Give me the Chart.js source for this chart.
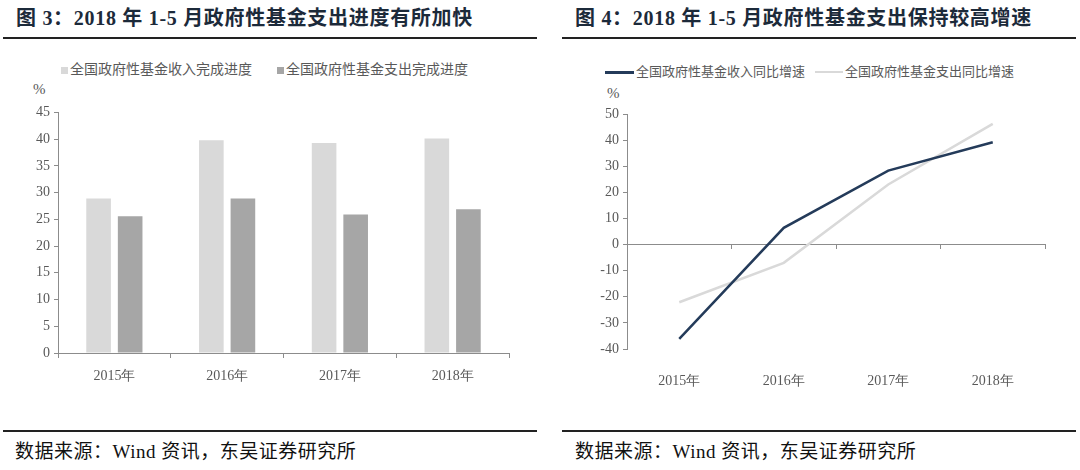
<!DOCTYPE html>
<html>
<head>
<meta charset="utf-8">
<script src="https://cdn.jsdelivr.net/npm/chart.js@4"></script>
<style>
  body { margin: 0; background: #fff; }
  #page { position: relative; width: 1080px; height: 470px; overflow: hidden; background: #fff; font-family: "Liberation Serif", "Noto Sans CJK SC", serif; }
  .title { position: absolute; top: 5px; font-size: 20px; font-weight: bold; color: #1c2a3a; white-space: nowrap; line-height: 26px; letter-spacing: 0.7px; }
  .rule { position: absolute; height: 2px; background: #222; }
  .source { position: absolute; top: 439px; font-size: 19px; color: #111; white-space: nowrap; line-height: 26px; letter-spacing: 0.5px; }
  .legend { position: absolute; font-size: 14px; color: #595959; white-space: nowrap; line-height: 18px; font-family: "Noto Sans CJK SC", sans-serif; }
  .sw { display: inline-block; vertical-align: middle; margin-right: 2px; }
  .pct { position: absolute; font-size: 15px; color: #595959; }
  .box { position: absolute; width: 540px; height: 290px; top: 100px; }
</style>
</head>
<body>
<div id="page">
  <div class="title" style="left:16px">图 3：2018 年 1-5 月政府性基金支出进度有所加快</div>
  <div class="title" style="left:575px">图 4：2018 年 1-5 月政府性基金支出保持较高增速</div>
  <div class="rule" style="left:3px;width:534px;top:37px"></div>
  <div class="rule" style="left:562px;width:514px;top:37px"></div>

  <div class="legend" style="left:61px;top:59px"><span class="sw" style="width:7px;height:7px;background:#d9d9d9"></span>全国政府性基金收入完成进度</div>
  <div class="legend" style="left:277px;top:59px"><span class="sw" style="width:7px;height:7px;background:#a6a6a6"></span>全国政府性基金支出完成进度</div>
  <div class="legend" style="left:605px;top:62px;font-size:13px"><span class="sw" style="width:29px;height:3px;background:#243b5a"></span>全国政府性基金收入同比增速</div>
  <div class="legend" style="left:815px;top:62px;font-size:13px"><span class="sw" style="width:28px;height:2px;background:#d9d9d9"></span>全国政府性基金支出同比增速</div>

  <div class="pct" style="left:33px;top:81px">%</div>
  <div class="pct" style="left:607px;top:85px">%</div>

  <div class="box" style="left:0"><canvas id="barChart"></canvas></div>
  <div class="box" style="left:540px"><canvas id="lineChart"></canvas></div>

  <div class="rule" style="left:3px;width:534px;top:430px"></div>
  <div class="rule" style="left:562px;width:514px;top:430px"></div>
  <div class="source" style="left:15px">数据来源：Wind 资讯，东吴证券研究所</div>
  <div class="source" style="left:575px">数据来源：Wind 资讯，东吴证券研究所</div>
</div>
<script>
const years = ["2015年", "2016年", "2017年", "2018年"];
const incomeProgress = [28.9, 39.8, 39.3, 40.1];
const spendProgress = [25.6, 28.9, 25.9, 26.9];
const incomeGrowth = [-36.1, 6.4, 28.3, 39.2];
const spendGrowth = [-22.1, -7.0, 23.0, 46.2];

const tickFont = { family: "Liberation Serif", size: 14 };
const tickColor = "#595959";
const axisColor = "#8c8c8c";

new Chart(document.getElementById("barChart"), {
  type: "bar",
  data: {
    labels: years,
    datasets: [{
      label: "全国政府性基金收入完成进度",
      data: incomeProgress,
      backgroundColor: "#d9d9d9",
      categoryPercentage: 0.56,
      barPercentage: 0.78
    }, {
      label: "全国政府性基金支出完成进度",
      data: spendProgress,
      backgroundColor: "#a6a6a6",
      categoryPercentage: 0.56,
      barPercentage: 0.78
    }]
  },
  options: {
    responsive: true,
    maintainAspectRatio: false,
    animation: false,
    layout: { padding: { top: 12, right: 31, left: 0, bottom: 0 } },
    plugins: { legend: { display: false }, tooltip: { enabled: false } },
    scales: {
      x: {
        grid: { offset: true, drawOnChartArea: false, tickLength: 5, color: axisColor },
        border: { color: axisColor },
        ticks: { font: tickFont, color: tickColor, padding: 10 },
        afterFit: (s) => { s.height = 37; }
      },
      y: {
        min: 0,
        max: 45,
        ticks: { stepSize: 5, font: tickFont, color: tickColor, padding: 4 },
        grid: { drawOnChartArea: false, tickLength: 4, color: axisColor },
        border: { color: axisColor },
        afterFit: (s) => { s.width = 58; }
      }
    }
  }
});

new Chart(document.getElementById("lineChart"), {
  type: "line",
  data: {
    labels: years,
    datasets: [{
      label: "全国政府性基金收入同比增速",
      data: incomeGrowth,
      borderColor: "#243b5a",
      borderWidth: 2.5,
      pointRadius: 0,
      tension: 0
    }, {
      label: "全国政府性基金支出同比增速",
      data: spendGrowth,
      borderColor: "#d9d9d9",
      borderWidth: 2.5,
      pointRadius: 0,
      tension: 0
    }]
  },
  options: {
    responsive: true,
    maintainAspectRatio: false,
    animation: false,
    layout: { padding: { top: 14, right: 35, left: 0, bottom: 0 } },
    plugins: { legend: { display: false }, tooltip: { enabled: false } },
    scales: {
      x: {
        type: "category",
        position: { y: 0 },
        offset: true,
        grid: { offset: true, drawOnChartArea: false, tickLength: 4, color: axisColor },
        border: { color: axisColor },
        ticks: { display: false }
      },
      x2: {
        type: "category",
        position: "bottom",
        offset: true,
        grid: { display: false },
        border: { display: false },
        ticks: { font: tickFont, color: tickColor, padding: 16 },
        afterFit: (s) => { s.height = 41; }
      },
      y: {
        min: -40,
        max: 50,
        ticks: { stepSize: 10, font: tickFont, color: tickColor, padding: 4 },
        grid: { drawOnChartArea: false, tickLength: 4, color: axisColor },
        border: { color: axisColor },
        afterFit: (s) => { s.width = 87; }
      }
    }
  }
});
</script>
</body>
</html>
